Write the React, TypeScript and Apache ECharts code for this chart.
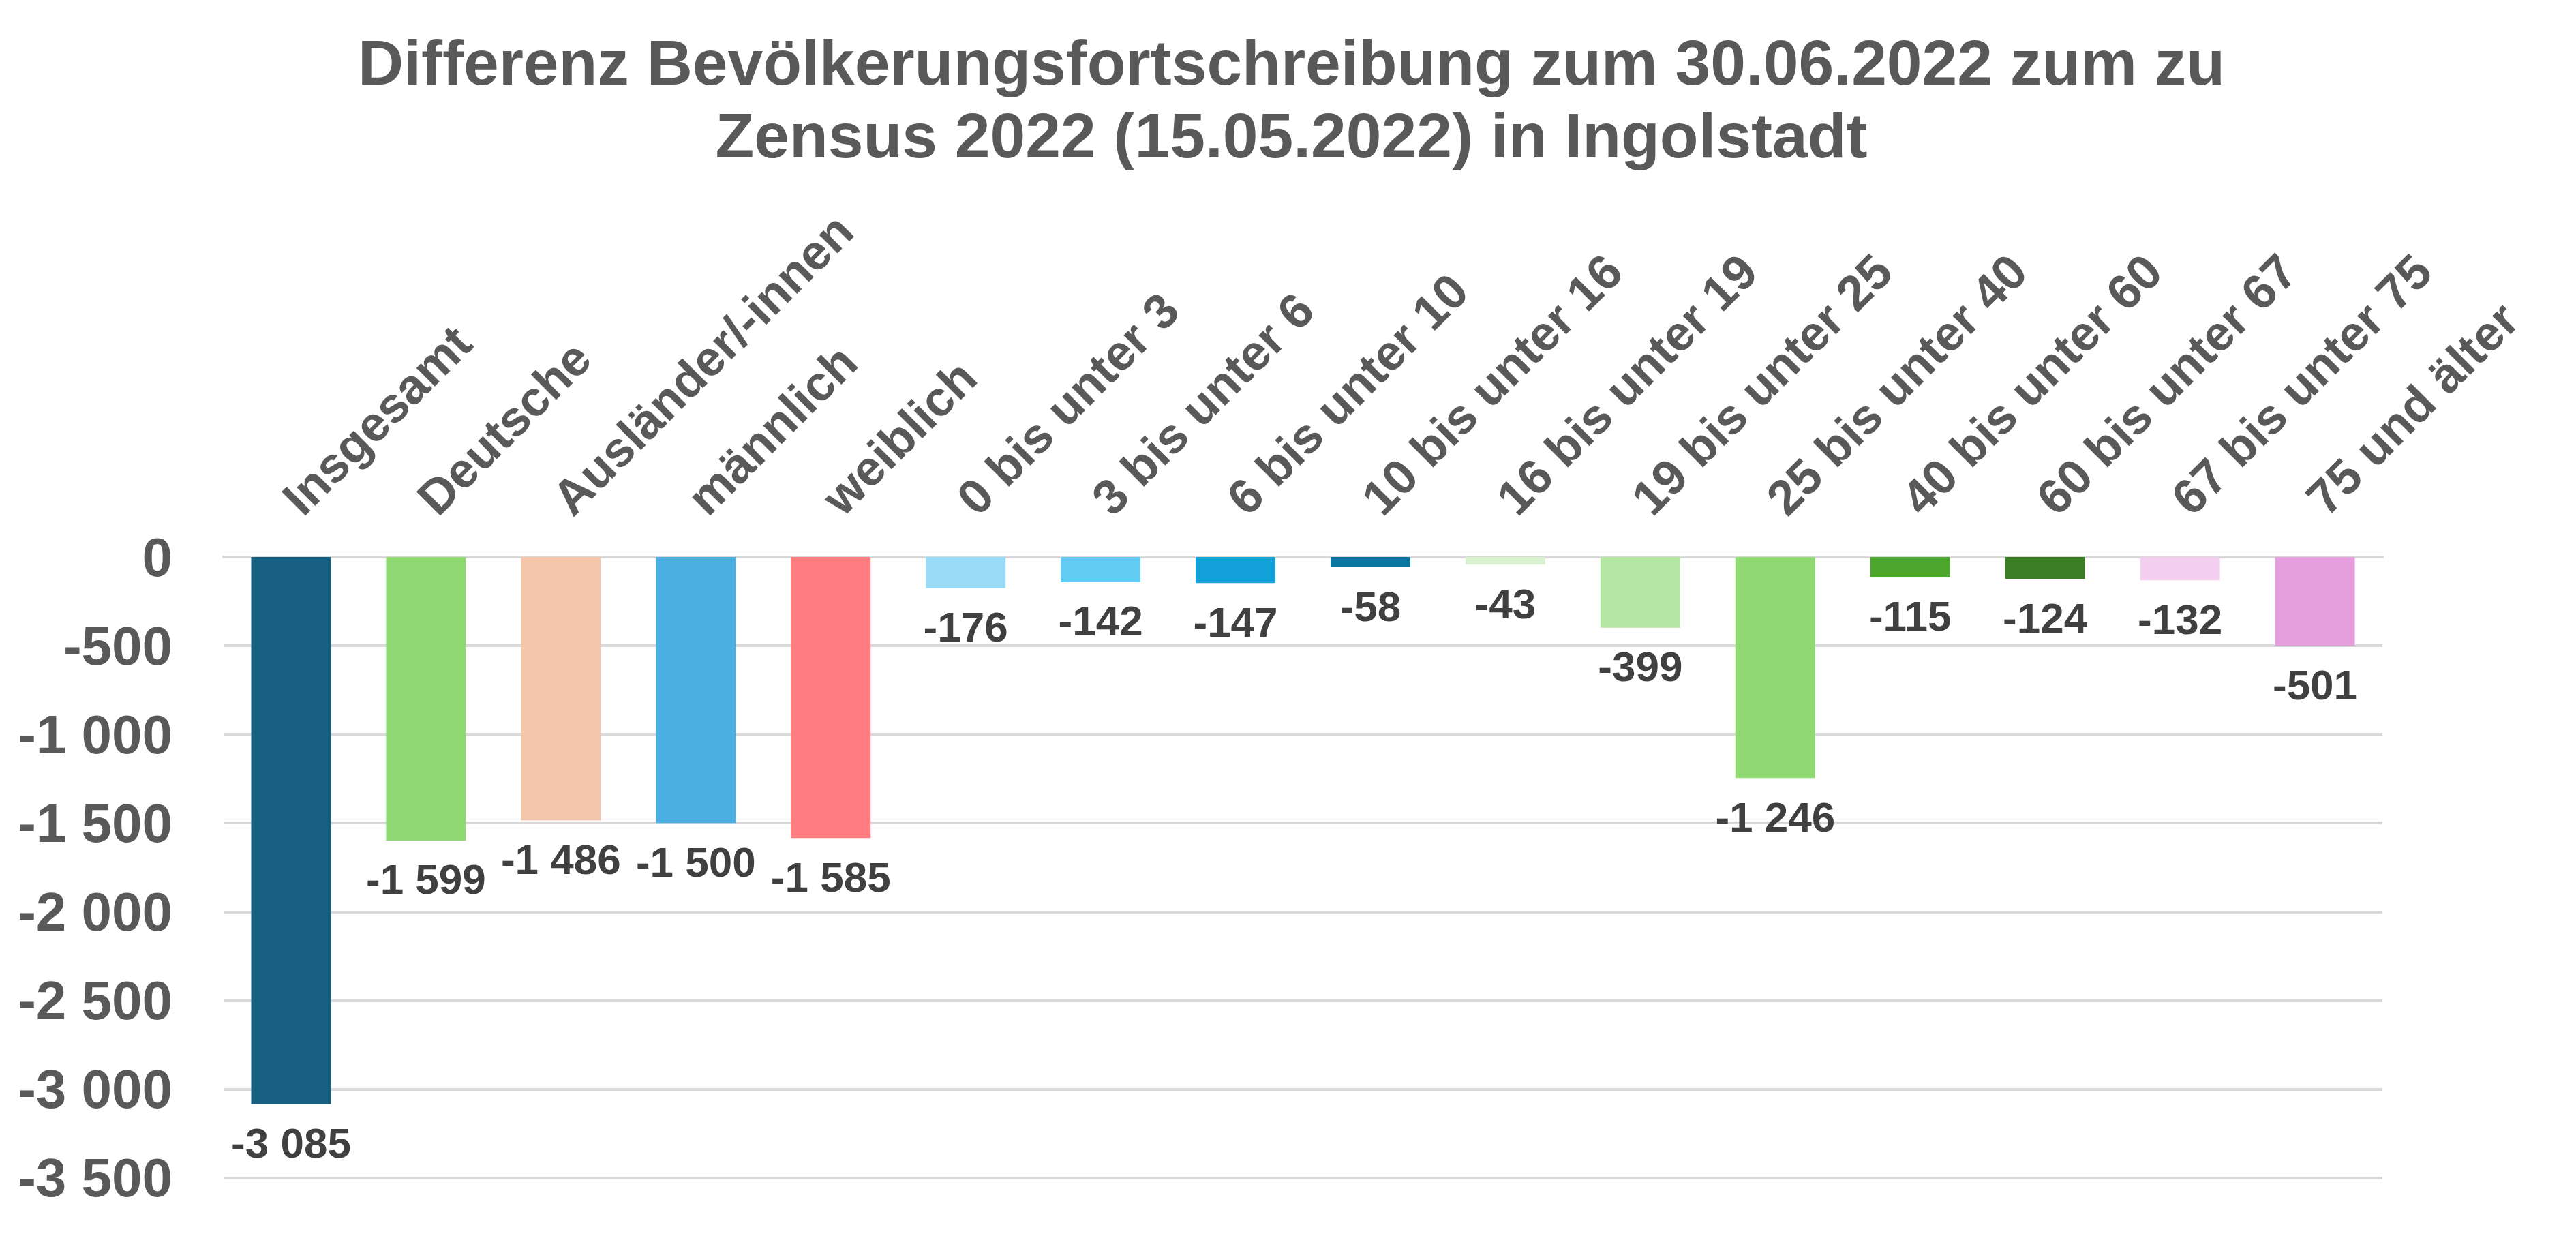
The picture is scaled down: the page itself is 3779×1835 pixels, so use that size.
import React, { useEffect, useRef } from "react";
import * as echarts from "echarts";

const categories = [
  "Insgesamt",
  "Deutsche",
  "Ausländer/-innen",
  "männlich",
  "weiblich",
  "0 bis unter 3",
  "3 bis unter 6",
  "6 bis unter 10",
  "10 bis unter 16",
  "16 bis unter 19",
  "19 bis unter 25",
  "25 bis unter 40",
  "40 bis unter 60",
  "60 bis unter 67",
  "67 bis unter 75",
  "75 und älter",
];

const values = [-3085, -1599, -1486, -1500, -1585, -176, -142, -147, -58, -43, -399, -1246, -115, -124, -132, -501];

const barColors = [
  "#175F80",
  "#8FD872",
  "#F4C7AC",
  "#48AFE0",
  "#FF7C80",
  "#99DBF7",
  "#62CBF2",
  "#11A0D8",
  "#0B76A0",
  "#DAF2D0",
  "#B4E5A2",
  "#8FD872",
  "#4EA72E",
  "#3B7D23",
  "#F2CEEF",
  "#E49EDD",
];

const titleText =
  "Differenz Bevölkerungsfortschreibung zum 30.06.2022 zum zu\nZensus 2022 (15.05.2022) in Ingolstadt";

const yMin = -3500;
const yMax = 0;
const yStep = 500;

const FONT = "Arial, 'Liberation Sans', sans-serif";

function fmt(v: number): string {
  const neg = v < 0;
  const s = Math.abs(Math.round(v)).toString();
  const parts = s.replace(/\B(?=(\d{3})+(?!\d))/g, " ");
  return (neg ? "-" : "") + parts;
}

export default function App() {
  const ref = useRef<HTMLDivElement>(null);

  useEffect(() => {
    document.body.style.margin = "0";
    document.body.style.overflow = "hidden";
    if (!ref.current) return;
    const chart = echarts.init(ref.current, undefined, { renderer: "svg" });
    chart.setOption({
      animation: false,
      backgroundColor: "#ffffff",
      title: {
        text: titleText,
        left: 1889.5,
        top: 33,
        textAlign: "center",
        textStyle: {
          fontFamily: FONT,
          fontSize: 93,
          fontWeight: "bold",
          color: "#595959",
          lineHeight: 107,
        },
      },
      grid: {
        left: 328,
        right: 284,
        top: 817,
        bottom: 107.5,
        containLabel: false,
      },
      xAxis: {
        type: "category",
        position: "top",
        data: categories,
        axisLine: { show: true, lineStyle: { color: "#d9d9d9", width: 4 } },
        axisTick: { show: false },
        axisLabel: {
          interval: 0,
          rotate: 45,
          margin: 75,
          fontFamily: FONT,
          fontSize: 72,
          fontWeight: "bold",
          color: "#595959",
        },
      },
      yAxis: {
        type: "value",
        min: yMin,
        max: yMax,
        interval: yStep,
        axisLine: { show: false },
        axisTick: { show: false },
        splitLine: { show: true, lineStyle: { color: "#d9d9d9", width: 4 } },
        axisLabel: {
          margin: 75,
          fontFamily: FONT,
          fontSize: 80,
          fontWeight: "bold",
          color: "#595959",
          formatter: (v: number) => fmt(v),
        },
      },
      series: [
        {
          type: "bar",
          barWidth: 117,
          data: values.map((v, i) => ({ value: v, itemStyle: { color: barColors[i] } })),
          label: {
            show: true,
            position: "bottom",
            distance: 26,
            fontFamily: FONT,
            fontSize: 62,
            fontWeight: "bold",
            color: "#404040",
            formatter: (p: any) => fmt(p.value),
          },
        },
      ],
    });
    return () => chart.dispose();
  }, []);

  return <div ref={ref} style={{ width: 3779, height: 1835 }} />;
}
